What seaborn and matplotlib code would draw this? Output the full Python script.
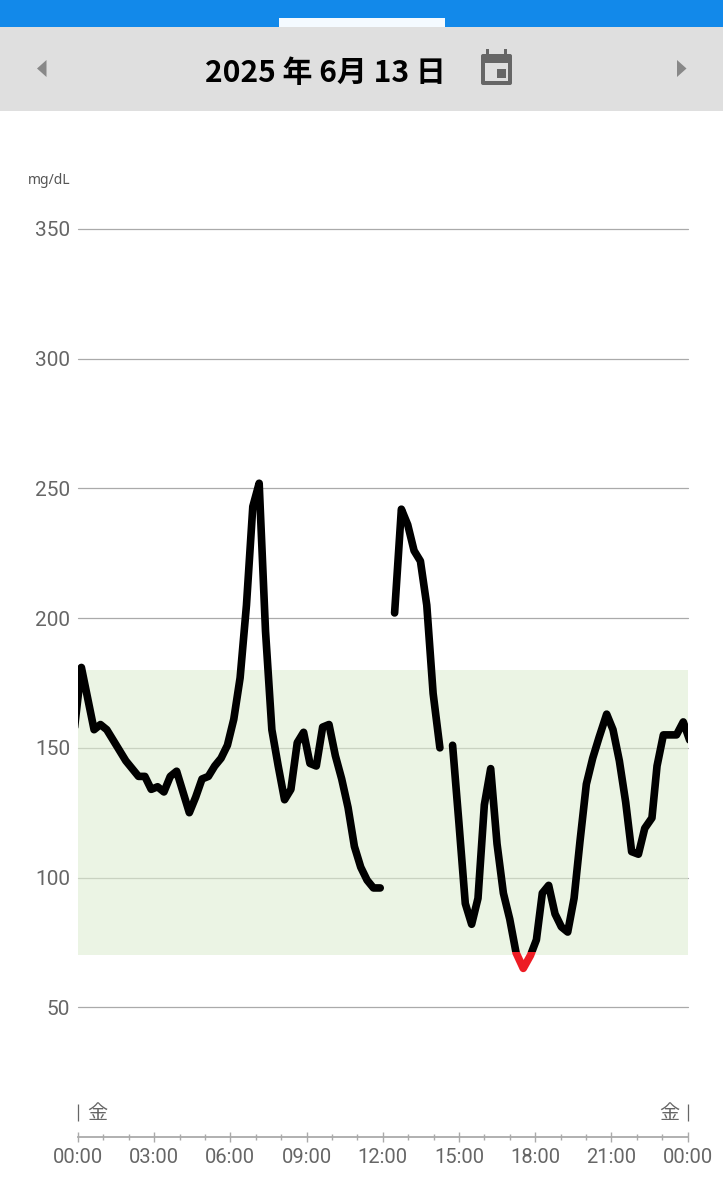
import pandas as pd
import matplotlib
matplotlib.use("Agg")
import matplotlib.pyplot as plt
import seaborn as sns
from matplotlib.patches import Rectangle, Polygon, FancyBboxPatch

# minutes after midnight, mg/dL
morning_min = [-8, 8, 23, 38, 53, 68, 83, 98, 113, 128, 143, 158, 173, 188, 203, 218, 233, 248, 263,
               278, 293, 308, 323, 338, 353, 368, 383, 398, 413, 428, 443, 458, 473, 488, 503, 518,
               533, 548, 563, 578, 593, 608, 623, 638, 653, 668, 683, 698, 714]
morning_val = [158, 181, 169, 157, 159, 157, 153, 149, 145, 142, 139, 139, 134, 135, 133, 139, 141,
               133, 125, 131, 138, 139, 143, 146, 151, 161, 177, 205, 243, 252, 195, 157, 143, 130,
               134, 152, 156, 144, 143, 158, 159, 147, 138, 127, 112, 104, 99, 96, 96]

noon_min = [748, 764, 779, 794, 809, 824, 839, 855]
noon_val = [202, 242, 236, 226, 222, 205, 171, 150]

evening_min = [885, 900, 915, 930, 945, 960, 975, 990, 1005, 1020, 1035, 1052, 1069, 1083, 1097,
               1112, 1127, 1142, 1157, 1172, 1186, 1201, 1216, 1231, 1249, 1264, 1279, 1294, 1308,
               1324, 1339, 1356, 1368, 1383, 1398, 1414, 1430, 1445]
evening_val = [151, 121, 90, 82, 92, 128, 142, 113, 94, 84, 71, 65, 70, 76, 94, 97, 86, 81, 79, 92,
               114, 136, 146, 154, 163, 157, 145, 129, 110, 109, 119, 123, 143, 155, 155, 155, 160, 153]

y_ticks = [50, 100, 150, 200, 250, 300, 350]
x_ticks = [0, 180, 360, 540, 720, 900, 1080, 1260, 1440]
x_labels = ["00:00", "03:00", "06:00", "09:00", "12:00", "15:00", "18:00", "21:00", "00:00"]
date_title = "2025 年 6月 13 日"
weekday = "金"
unit = "mg/dL"

target_low, target_high = 70, 180
red_cut = 71.5

W, H = 723, 1200
GRAY = "#666666"
LINE_W = 5.5

sns.set_theme(style="white")
plt.rcParams["font.family"] = ["Roboto", "Noto Sans CJK JP", "DejaVu Sans"]

fig = plt.figure(figsize=(W / 100, H / 100), dpi=100, facecolor="white")
ax = fig.add_axes([78 / W, 1 - 1137 / H, 609.5 / W, 908 / H])

ax.set_axisbelow(True)
# fairly opaque so the grid shows faintly through the band
ax.axhspan(target_low, target_high, color="#deedd2", alpha=0.6, lw=0, zorder=1)

segments = [(morning_min, morning_val), (noon_min, noon_val), (evening_min, evening_val)]
for minutes, values in segments:
    df = pd.DataFrame({"minute": minutes, "glucose": values})
    sns.lineplot(data=df, x="minute", y="glucose", ax=ax, color="black", lw=LINE_W, estimator=None,
                 sort=False, legend=False, zorder=3, solid_capstyle="round", solid_joinstyle="round")
    ax.lines[-1].set_clip_path(Rectangle((0, red_cut), 1440, 400, transform=ax.transData))
    # near the bottom of the target band the same trace turns red
    sns.lineplot(data=df, x="minute", y="glucose", ax=ax, color="#ed1c24", lw=LINE_W, estimator=None,
                 sort=False, legend=False, zorder=3, solid_capstyle="round", solid_joinstyle="round")
    ax.lines[-1].set_clip_path(Rectangle((0, 0), 1440, red_cut, transform=ax.transData))

ax.set_xlim(0, 1440)
ax.set_ylim(0, 350)
ax.set_xlabel("")
ax.set_ylabel("")

ax.set_yticks(y_ticks)
ax.set_xticks(x_ticks)
ax.set_xticklabels(x_labels)
ax.set_xticks(range(0, 1441, 60), minor=True)
ax.grid(axis="y", color="#aaaaaa", lw=0.9, clip_on=False)
ax.grid(axis="x", visible=False)
for line in ax.get_ygridlines():
    line.set_clip_on(False)

sns.despine(ax=ax, left=True)
ax.spines["bottom"].set_color("#aaaaaa")
ax.spines["bottom"].set_linewidth(1.3)
ax.tick_params(axis="y", length=0, pad=5.8, labelsize=15, labelcolor=GRAY)
ax.tick_params(axis="x", which="major", direction="inout", length=7.5, width=1.0, color="#aaaaaa",
               pad=4.5, labelsize=14.5, labelcolor=GRAY, bottom=True)
ax.tick_params(axis="x", which="minor", direction="inout", length=4.5, width=1.0, color="#aaaaaa",
               bottom=True)

# weekday marks over the axis
ax.vlines([0, 1440], 6.2, 12.7, color=GRAY, lw=0.9, clip_on=False)

# app chrome in pixel coordinates
ui = fig.add_axes([0, 0, 1, 1], zorder=-1)
ui.set_xlim(0, W)
ui.set_ylim(H, 0)
ui.axis("off")
ui.add_patch(Rectangle((0, 0), W, 27, color="#1289ea", lw=0))
ui.add_patch(Rectangle((279, 18), 166, 9, color="#f4faff", lw=0))
ui.add_patch(Rectangle((0, 27), W, 84, color="#dfdfdf", lw=0))
ui.add_patch(Polygon([(46.5, 60), (46.5, 77), (37, 68.5)], color="#888888", lw=0))
ui.add_patch(Polygon([(677, 60), (677, 77), (686.5, 68.5)], color="#888888", lw=0))

ui.text(325, 73, date_title, ha="center", va="center", fontsize=21.6, fontweight="bold", color="black",
        family=["Noto Sans CJK JP", "DejaVu Sans"])

# calendar icon
ui.add_patch(FancyBboxPatch((481, 54), 31, 31, boxstyle="round,pad=0,rounding_size=2", color="#666666", lw=0))
ui.add_patch(Rectangle((486, 49), 3, 7, color="#666666", lw=0))
ui.add_patch(Rectangle((504, 49), 3, 7, color="#666666", lw=0))
ui.add_patch(Rectangle((485, 63), 23, 18, color="#dfdfdf", lw=0))
ui.add_patch(Rectangle((497, 69), 9, 9, color="#666666", lw=0))

ui.text(49, 181, unit, ha="center", va="center", fontsize=10, color="#555555",
        family=["Noto Sans", "DejaVu Sans"])
ui.text(97, 1114, weekday, ha="center", va="center", fontsize=14.5, color=GRAY,
        family=["Noto Sans CJK JP", "DejaVu Sans"])
ui.text(669, 1114, weekday, ha="center", va="center", fontsize=14.5, color=GRAY,
        family=["Noto Sans CJK JP", "DejaVu Sans"])

ax.patch.set_alpha(0)
fig.savefig("out.png", dpi=100, facecolor="white")
